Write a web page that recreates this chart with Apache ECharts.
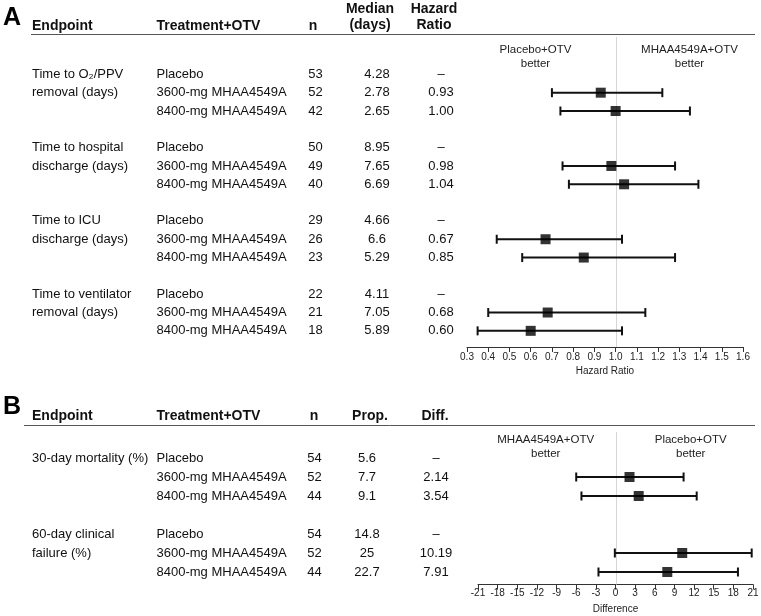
<!DOCTYPE html>
<html>
<head>
<meta charset="utf-8">
<script src="https://cdn.jsdelivr.net/npm/echarts@6/dist/echarts.min.js"></script>
<style>
html, body { margin: 0; padding: 0; background: #fff; }
#main { width: 761px; height: 616px; }
</style>
</head>
<body>
<div id="main"></div>
<script>
// A: 时间终点 (hazard ratio)
var endpointsA = ['Time to O\u2082/PPV\nremoval (days)', 'Time to hospital\ndischarge (days)', 'Time to ICU\ndischarge (days)', 'Time to ventilator\nremoval (days)'];
var treatments = ['Placebo', '3600-mg MHAA4549A', '8400-mg MHAA4549A'];
var nA = [53, 52, 42, 50, 49, 40, 29, 26, 23, 22, 21, 18];
var medianA = [4.28, 2.78, 2.65, 8.95, 7.65, 6.69, 4.66, 6.6, 5.29, 4.11, 7.05, 5.89];
var hrA = [null, 0.93, 1.00, null, 0.98, 1.04, null, 0.67, 0.85, null, 0.68, 0.60];
var hrLowA = [null, 0.70, 0.74, null, 0.75, 0.78, null, 0.44, 0.56, null, 0.40, 0.35];
var hrHighA = [null, 1.22, 1.35, null, 1.28, 1.39, null, 1.03, 1.28, null, 1.14, 1.03];

// B: 比例终点 (difference)
var endpointsB = ['30-day mortality (%)', '60-day clinical\nfailure (%)'];
var nB = [54, 52, 44, 54, 52, 44];
var propB = [5.6, 7.7, 9.1, 14.8, 25, 22.7];
var diffB = [null, 2.14, 3.54, null, 10.19, 7.91];
var diffLowB = [null, -6.0, -5.2, null, -0.1, -2.6];
var diffHighB = [null, 10.4, 12.4, null, 20.8, 18.7];

var FONT = "'Liberation Sans', Arial, sans-serif";
var TEXT = '#111';

// one blank row after every group of three
function rowIndex(i) {
    return i + Math.floor(i / 3);
}

function column(count, values, fn) {
    var out = [];
    for (var r = 0; r < count; r++) out.push('');
    values.forEach(function (v, i) {
        out[rowIndex(i)] = fn(v, i);
    });
    return out;
}

function endpointColumn(count, endpoints) {
    var out = [];
    for (var r = 0; r < count; r++) out.push('');
    endpoints.forEach(function (e, g) {
        e.split('\n').forEach(function (line, k) {
            out[rowIndex(g * 3) + k] = line;
        });
    });
    return out;
}

function rowKeys(count) {
    var out = [];
    for (var r = 0; r < count; r++) out.push('r' + r);
    return out;
}

var rowsA = rowIndex(nA.length - 1) + 1;
var rowsB = rowIndex(nB.length - 1) + 1;

var gridA = { left: 467, right: 18, top: 65.2, height: 274.8 };
var gridB = { left: 478, right: 8, top: 448.5, height: 133 };

function textAxis(gridIndex, gridLeft, data, x, align) {
    return {
        type: 'category',
        gridIndex: gridIndex,
        inverse: true,
        position: 'left',
        offset: gridLeft - x,
        data: data,
        axisLine: { show: false },
        axisTick: { show: false },
        splitLine: { show: false },
        axisLabel: {
            interval: 0,
            margin: 0,
            align: align,
            color: TEXT,
            fontSize: 13,
            fontFamily: FONT
        }
    };
}

function rowAxis(gridIndex, count) {
    return {
        type: 'category',
        gridIndex: gridIndex,
        inverse: true,
        data: rowKeys(count),
        axisLine: { show: false },
        axisTick: { show: false },
        axisLabel: { show: false },
        splitLine: { show: false }
    };
}

function label(v) {
    return v == null ? '\u2013' : v.toFixed(2);
}

// 置信区间
function renderCI(params, api) {
    var y = api.value(2);
    var p1 = api.coord([api.value(0), y]);
    var p2 = api.coord([api.value(1), y]);
    var cap = 4.5;
    var style = { stroke: '#111', lineWidth: 2 };
    return {
        type: 'group',
        children: [
            { type: 'line', shape: { x1: p1[0], y1: p1[1], x2: p2[0], y2: p2[1] }, style: style },
            { type: 'line', shape: { x1: p1[0], y1: p1[1] - cap, x2: p1[0], y2: p1[1] + cap }, style: style },
            { type: 'line', shape: { x1: p2[0], y1: p2[1] - cap, x2: p2[0], y2: p2[1] + cap }, style: style }
        ]
    };
}

function refLine(above, below) {
    return function (params, api) {
        var x = Math.round(api.coord([api.value(0), 0])[0]) + 0.5;
        var cs = params.coordSys;
        return {
            type: 'line',
            shape: { x1: x, y1: cs.y - above, x2: x, y2: cs.y + cs.height + below },
            style: { stroke: '#d6d6d6', lineWidth: 1 }
        };
    };
}

function ciData(low, high) {
    var out = [];
    low.forEach(function (v, i) {
        if (v != null) out.push([v, high[i], rowIndex(i)]);
    });
    return out;
}

function pointData(vals) {
    var out = [];
    vals.forEach(function (v, i) {
        if (v != null) out.push([v, rowIndex(i)]);
    });
    return out;
}

function valueAxis(gridIndex, min, max, interval, name, offset, margin, nameGap, digits) {
    return {
        type: 'value',
        gridIndex: gridIndex,
        min: min,
        max: max,
        interval: interval,
        offset: offset,
        name: name,
        nameLocation: 'middle',
        nameGap: nameGap,
        nameTextStyle: { color: '#222', fontSize: 10, fontFamily: FONT },
        axisLine: { show: true, lineStyle: { color: '#333', width: 1 } },
        axisTick: { show: true, length: 5, lineStyle: { color: '#333' } },
        axisLabel: {
            color: '#222', fontSize: 10, fontFamily: FONT, margin: margin,
            showMinLabel: true, showMaxLabel: true,
            formatter: function (v) { return v.toFixed(digits); }
        },
        splitLine: { show: false }
    };
}

function txt(x, y, text, opts) {
    return {
        type: 'text',
        x: x,
        y: y,
        silent: true,
        style: {
            text: text,
            fill: opts.fill || TEXT,
            font: opts.font,
            align: opts.align || 'left',
            verticalAlign: 'middle',
            lineHeight: opts.lineHeight || 14
        }
    };
}

var HEAD = 'bold 14px ' + FONT;
var BETTER = '11.5px ' + FONT;

var option = {
    animation: false,
    backgroundColor: '#fff',
    grid: [
        Object.assign({ outerBoundsMode: 'none', containLabel: false }, gridA),
        Object.assign({ outerBoundsMode: 'none', containLabel: false }, gridB)
    ],
    xAxis: [
        valueAxis(0, 0.3, 1.6, 0.1, 'Hazard Ratio', 7, 5, 19, 1),
        valueAxis(1, -21, 21, 3, 'Difference', 3, 4, 20, 0)
    ],
    yAxis: [
        rowAxis(0, rowsA),
        rowAxis(1, rowsB),
        textAxis(0, gridA.left, endpointColumn(rowsA, endpointsA), 32, 'left'),
        textAxis(0, gridA.left, column(rowsA, nA, function (v, i) { return treatments[i % 3]; }), 156.5, 'left'),
        textAxis(0, gridA.left, column(rowsA, nA, function (v) { return String(v); }), 315.5, 'center'),
        textAxis(0, gridA.left, column(rowsA, medianA, function (v) { return String(v); }), 377, 'center'),
        textAxis(0, gridA.left, column(rowsA, hrA, label), 441, 'center'),
        textAxis(1, gridB.left, endpointColumn(rowsB, endpointsB), 32, 'left'),
        textAxis(1, gridB.left, column(rowsB, nB, function (v, i) { return treatments[i % 3]; }), 156.5, 'left'),
        textAxis(1, gridB.left, column(rowsB, nB, function (v) { return String(v); }), 314.5, 'center'),
        textAxis(1, gridB.left, column(rowsB, propB, function (v) { return String(v); }), 367, 'center'),
        textAxis(1, gridB.left, column(rowsB, diffB, label), 436, 'center')
    ],
    graphic: [
        txt(3, 18, 'A', { font: 'bold 25px ' + FONT, fill: '#000' }),
        txt(32, 26, 'Endpoint', { font: HEAD }),
        txt(156.5, 26, 'Treatment+OTV', { font: HEAD }),
        txt(313, 26, 'n', { font: HEAD, align: 'center' }),
        txt(370, 17, 'Median\n(days)', { font: HEAD, align: 'center', lineHeight: 16.5 }),
        txt(434, 17, 'Hazard\nRatio', { font: HEAD, align: 'center', lineHeight: 16.5 }),
        { type: 'line', silent: true, shape: { x1: 31, y1: 34.5, x2: 755, y2: 34.5 }, style: { stroke: '#555', lineWidth: 1 } },
        txt(535.5, 57, 'Placebo+OTV\nbetter', { font: BETTER, align: 'center', fill: '#222' }),
        txt(689.5, 57, 'MHAA4549A+OTV\nbetter', { font: BETTER, align: 'center', fill: '#222' }),

        txt(3, 407, 'B', { font: 'bold 25px ' + FONT, fill: '#000' }),
        txt(32, 416, 'Endpoint', { font: HEAD }),
        txt(156.5, 416, 'Treatment+OTV', { font: HEAD }),
        txt(314, 416, 'n', { font: HEAD, align: 'center' }),
        txt(370, 416, 'Prop.', { font: HEAD, align: 'center' }),
        txt(435, 416, 'Diff.', { font: HEAD, align: 'center' }),
        { type: 'line', silent: true, shape: { x1: 24, y1: 425.5, x2: 755, y2: 425.5 }, style: { stroke: '#555', lineWidth: 1 } },
        txt(545.7, 447, 'MHAA4549A+OTV\nbetter', { font: BETTER, align: 'center', fill: '#222' }),
        txt(690.7, 447, 'Placebo+OTV\nbetter', { font: BETTER, align: 'center', fill: '#222' })
    ],
    series: [
        {
            type: 'custom', xAxisIndex: 0, yAxisIndex: 0, silent: true, clip: false, z: 1,
            renderItem: refLine(28.2, 7), data: [[1, 0]], encode: { x: 0, y: 1 }
        },
        {
            type: 'custom', xAxisIndex: 0, yAxisIndex: 0, silent: true, z: 2,
            renderItem: renderCI, data: ciData(hrLowA, hrHighA), encode: { x: [0, 1], y: 2 }
        },
        {
            type: 'scatter', xAxisIndex: 0, yAxisIndex: 0, silent: true, z: 3,
            symbol: 'rect', symbolSize: 10, itemStyle: { color: '#000' },
            data: pointData(hrA)
        },
        {
            type: 'custom', xAxisIndex: 1, yAxisIndex: 1, silent: true, clip: false, z: 1,
            renderItem: refLine(16.5, 3), data: [[0, 0]], encode: { x: 0, y: 1 }
        },
        {
            type: 'custom', xAxisIndex: 1, yAxisIndex: 1, silent: true, z: 2,
            renderItem: renderCI, data: ciData(diffLowB, diffHighB), encode: { x: [0, 1], y: 2 }
        },
        {
            type: 'scatter', xAxisIndex: 1, yAxisIndex: 1, silent: true, z: 3,
            symbol: 'rect', symbolSize: 10, itemStyle: { color: '#000' },
            data: pointData(diffB)
        }
    ]
};

//初始化echarts实例
var myChart = echarts.init(document.getElementById('main'));
myChart.setOption(option);
</script>
</body>
</html>
